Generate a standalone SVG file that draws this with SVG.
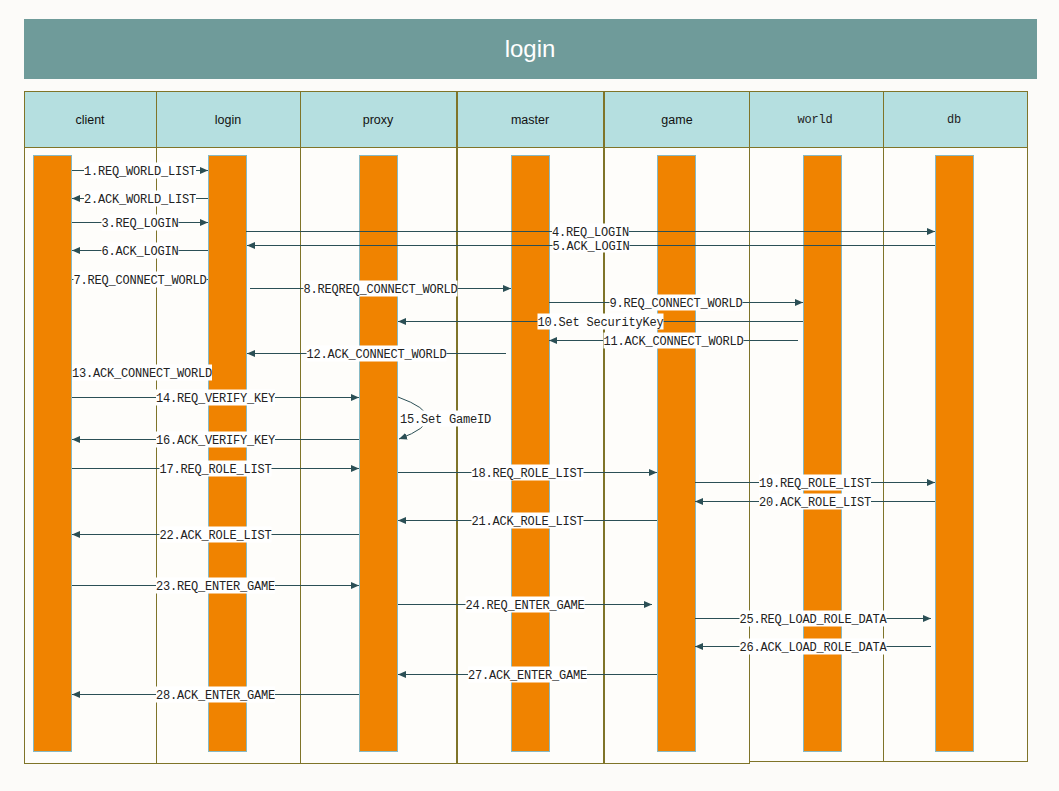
<svg xmlns="http://www.w3.org/2000/svg" width="1059" height="791" viewBox="0 0 1059 791">
<style>
.lane{fill:#fefdfa;stroke:#7f7429;stroke-width:1}
.hdr{fill:#b5dfe0;stroke:#7f7429;stroke-width:1}
.hs{font-family:"Liberation Sans",Arial,sans-serif;font-size:12.5px;fill:#111;text-anchor:middle}
.hm{font-family:"Liberation Mono","Courier New",monospace;font-size:12px;letter-spacing:-0.2px;fill:#222;text-anchor:middle}
.bar{fill:#f08300;stroke:#86b9c4;stroke-width:1}
.msg{stroke:#2b4f55;stroke-width:1;fill:none}
.lbg{fill:#ffffff}
.lt{font-family:"Liberation Mono","Courier New",monospace;font-size:12px;letter-spacing:-0.2px;fill:#222;text-anchor:middle}
</style>
<defs>
<marker id="ah" markerWidth="8" markerHeight="7" refX="8" refY="3.5" orient="auto" markerUnits="userSpaceOnUse">
<path d="M0,0 L8,3.5 L0,7 z" fill="#2b4f55"/>
</marker>
</defs>
<rect width="1059" height="791" fill="#fcfbf9"/>
<g id="title">
<rect x="24" y="19" width="1013" height="60" fill="#6f9b9a"/>
<text x="530" y="57" font-family="'Liberation Sans',Arial,sans-serif" font-size="24" fill="#ffffff" text-anchor="middle">login</text>
</g>
<g id="lane-client">
<rect class="lane" x="24.5" y="91.5" width="132" height="672"/>
<rect class="hdr" x="24.5" y="91.5" width="132" height="56"/>
<text class="hs" x="90" y="124">client</text>
<rect class="bar" x="33.5" y="155.5" width="38" height="596"/>
</g>
<g id="lane-login">
<rect class="lane" x="156.5" y="91.5" width="144" height="672"/>
<rect class="hdr" x="156.5" y="91.5" width="144" height="56"/>
<text class="hs" x="228" y="124">login</text>
<rect class="bar" x="208.5" y="155.5" width="38" height="596"/>
</g>
<g id="lane-proxy">
<rect class="lane" x="300.5" y="91.5" width="156" height="672"/>
<rect class="hdr" x="300.5" y="91.5" width="156" height="56"/>
<text class="hs" x="378" y="124">proxy</text>
<rect class="bar" x="359.5" y="155.5" width="38" height="596"/>
</g>
<g id="lane-master">
<rect class="lane" x="457.5" y="91.5" width="147" height="672"/>
<rect class="hdr" x="457.5" y="91.5" width="147" height="56"/>
<text class="hs" x="530" y="124">master</text>
<rect class="bar" x="511.5" y="155.5" width="38" height="596"/>
</g>
<g id="lane-game">
<rect class="lane" x="604.5" y="91.5" width="145" height="672"/>
<rect class="hdr" x="604.5" y="91.5" width="145" height="56"/>
<text class="hs" x="677" y="124">game</text>
<rect class="bar" x="657.5" y="155.5" width="38" height="596"/>
</g>
<g id="lane-world">
<rect class="lane" x="749.5" y="91.5" width="134" height="670"/>
<rect class="hdr" x="749.5" y="91.5" width="134" height="56"/>
<text class="hm" x="815" y="123">world</text>
<rect class="bar" x="803.5" y="155.5" width="38" height="596"/>
</g>
<g id="lane-db">
<rect class="lane" x="883.5" y="91.5" width="144" height="670"/>
<rect class="hdr" x="883.5" y="91.5" width="144" height="56"/>
<text class="hm" x="954" y="123">db</text>
<rect class="bar" x="935.5" y="155.5" width="38" height="596"/>
</g>
<line x1="457" y1="91" x2="457" y2="764" stroke="#7f7429" stroke-width="2"/>
<line x1="604" y1="91" x2="604" y2="764" stroke="#7f7429" stroke-width="2"/>
<g id="connectors">
<line class="msg" x1="72" y1="170.5" x2="208" y2="170.5" marker-end="url(#ah)"/>
<line class="msg" x1="208" y1="198.5" x2="72" y2="198.5" marker-end="url(#ah)"/>
<line class="msg" x1="72" y1="222.5" x2="208" y2="222.5" marker-end="url(#ah)"/>
<line class="msg" x1="246" y1="231.5" x2="935" y2="231.5" marker-end="url(#ah)"/>
<line class="msg" x1="935" y1="245.5" x2="247" y2="245.5" marker-end="url(#ah)"/>
<line class="msg" x1="208" y1="250.5" x2="72" y2="250.5" marker-end="url(#ah)"/>
<line class="msg" x1="72" y1="279.5" x2="208" y2="279.5" marker-end="url(#ah)"/>
<line class="msg" x1="250" y1="288.5" x2="511" y2="288.5" marker-end="url(#ah)"/>
<line class="msg" x1="549" y1="302.5" x2="803" y2="302.5" marker-end="url(#ah)"/>
<line class="msg" x1="803" y1="321.5" x2="398" y2="321.5" marker-end="url(#ah)"/>
<line class="msg" x1="798" y1="340.5" x2="549" y2="340.5" marker-end="url(#ah)"/>
<line class="msg" x1="506" y1="353.5" x2="247" y2="353.5" marker-end="url(#ah)"/>
<line class="msg" x1="212" y1="372.5" x2="72" y2="372.5" marker-end="url(#ah)"/>
<line class="msg" x1="72" y1="397.5" x2="359" y2="397.5" marker-end="url(#ah)"/>
<path class="msg" d="M398,397 Q456,418 399,439" marker-end="url(#ah)"/>
<line class="msg" x1="359" y1="439.5" x2="72" y2="439.5" marker-end="url(#ah)"/>
<line class="msg" x1="72" y1="468.5" x2="359" y2="468.5" marker-end="url(#ah)"/>
<line class="msg" x1="398" y1="472.5" x2="657" y2="472.5" marker-end="url(#ah)"/>
<line class="msg" x1="695" y1="482.5" x2="935" y2="482.5" marker-end="url(#ah)"/>
<line class="msg" x1="935" y1="501.5" x2="695" y2="501.5" marker-end="url(#ah)"/>
<line class="msg" x1="657" y1="520.5" x2="398" y2="520.5" marker-end="url(#ah)"/>
<line class="msg" x1="359" y1="534.5" x2="72" y2="534.5" marker-end="url(#ah)"/>
<line class="msg" x1="72" y1="585.5" x2="359" y2="585.5" marker-end="url(#ah)"/>
<line class="msg" x1="398" y1="604.5" x2="652" y2="604.5" marker-end="url(#ah)"/>
<line class="msg" x1="695" y1="618.5" x2="931" y2="618.5" marker-end="url(#ah)"/>
<line class="msg" x1="931" y1="646.5" x2="695" y2="646.5" marker-end="url(#ah)"/>
<line class="msg" x1="657" y1="674.5" x2="398" y2="674.5" marker-end="url(#ah)"/>
<line class="msg" x1="359" y1="694.5" x2="72" y2="694.5" marker-end="url(#ah)"/>
</g>
<g id="labels">
<rect class="lbg" x="84" y="162.5" width="112" height="16"/><text class="lt" x="140" y="174.5">1.REQ_WORLD_LIST</text>
<rect class="lbg" x="84" y="190.5" width="112" height="16"/><text class="lt" x="140" y="202.5">2.ACK_WORLD_LIST</text>
<rect class="lbg" x="101.5" y="214.5" width="77" height="16"/><text class="lt" x="140" y="226.5">3.REQ_LOGIN</text>
<rect class="lbg" x="552" y="223.5" width="77" height="16"/><text class="lt" x="590.5" y="235.5">4.REQ_LOGIN</text>
<rect class="lbg" x="552.5" y="238.5" width="77" height="14"/><text class="lt" x="591" y="249.5">5.ACK_LOGIN</text>
<rect class="lbg" x="101.5" y="242.5" width="77" height="16"/><text class="lt" x="140" y="254.5">6.ACK_LOGIN</text>
<rect class="lbg" x="73.5" y="271.5" width="133" height="16"/><text class="lt" x="140" y="283.5">7.REQ_CONNECT_WORLD</text>
<rect class="lbg" x="303.5" y="280.5" width="154" height="16"/><text class="lt" x="380.5" y="292.5">8.REQREQ_CONNECT_WORLD</text>
<rect class="lbg" x="609.5" y="294.5" width="133" height="16"/><text class="lt" x="676" y="306.5">9.REQ_CONNECT_WORLD</text>
<rect class="lbg" x="537.5" y="313.5" width="126" height="16"/><text class="lt" x="600.5" y="325.5">10.Set SecurityKey</text>
<rect class="lbg" x="603.5" y="332.5" width="140" height="16"/><text class="lt" x="673.5" y="344.5">11.ACK_CONNECT_WORLD</text>
<rect class="lbg" x="306.5" y="345.5" width="140" height="16"/><text class="lt" x="376.5" y="357.5">12.ACK_CONNECT_WORLD</text>
<rect class="lbg" x="72" y="364.5" width="140" height="16"/><text class="lt" x="142" y="376.5">13.ACK_CONNECT_WORLD</text>
<rect class="lbg" x="156" y="389.5" width="119" height="16"/><text class="lt" x="215.5" y="401.5">14.REQ_VERIFY_KEY</text>
<rect class="lbg" x="400" y="410.5" width="91" height="16"/><text class="lt" x="445.5" y="422.5">15.Set GameID</text>
<rect class="lbg" x="156" y="431.5" width="119" height="16"/><text class="lt" x="215.5" y="443.5">16.ACK_VERIFY_KEY</text>
<rect class="lbg" x="159.5" y="460.5" width="112" height="16"/><text class="lt" x="215.5" y="472.5">17.REQ_ROLE_LIST</text>
<rect class="lbg" x="471.5" y="464.5" width="112" height="16"/><text class="lt" x="527.5" y="476.5">18.REQ_ROLE_LIST</text>
<rect class="lbg" x="759" y="474.5" width="112" height="16"/><text class="lt" x="815" y="486.5">19.REQ_ROLE_LIST</text>
<rect class="lbg" x="759" y="493.5" width="112" height="16"/><text class="lt" x="815" y="505.5">20.ACK_ROLE_LIST</text>
<rect class="lbg" x="471.5" y="512.5" width="112" height="16"/><text class="lt" x="527.5" y="524.5">21.ACK_ROLE_LIST</text>
<rect class="lbg" x="159.5" y="526.5" width="112" height="16"/><text class="lt" x="215.5" y="538.5">22.ACK_ROLE_LIST</text>
<rect class="lbg" x="156" y="577.5" width="119" height="16"/><text class="lt" x="215.5" y="589.5">23.REQ_ENTER_GAME</text>
<rect class="lbg" x="465.5" y="596.5" width="119" height="16"/><text class="lt" x="525" y="608.5">24.REQ_ENTER_GAME</text>
<rect class="lbg" x="739.5" y="610.5" width="147" height="16"/><text class="lt" x="813" y="622.5">25.REQ_LOAD_ROLE_DATA</text>
<rect class="lbg" x="739.5" y="638.5" width="147" height="16"/><text class="lt" x="813" y="650.5">26.ACK_LOAD_ROLE_DATA</text>
<rect class="lbg" x="468" y="666.5" width="119" height="16"/><text class="lt" x="527.5" y="678.5">27.ACK_ENTER_GAME</text>
<rect class="lbg" x="156" y="686.5" width="119" height="16"/><text class="lt" x="215.5" y="698.5">28.ACK_ENTER_GAME</text>
</g>
</svg>
